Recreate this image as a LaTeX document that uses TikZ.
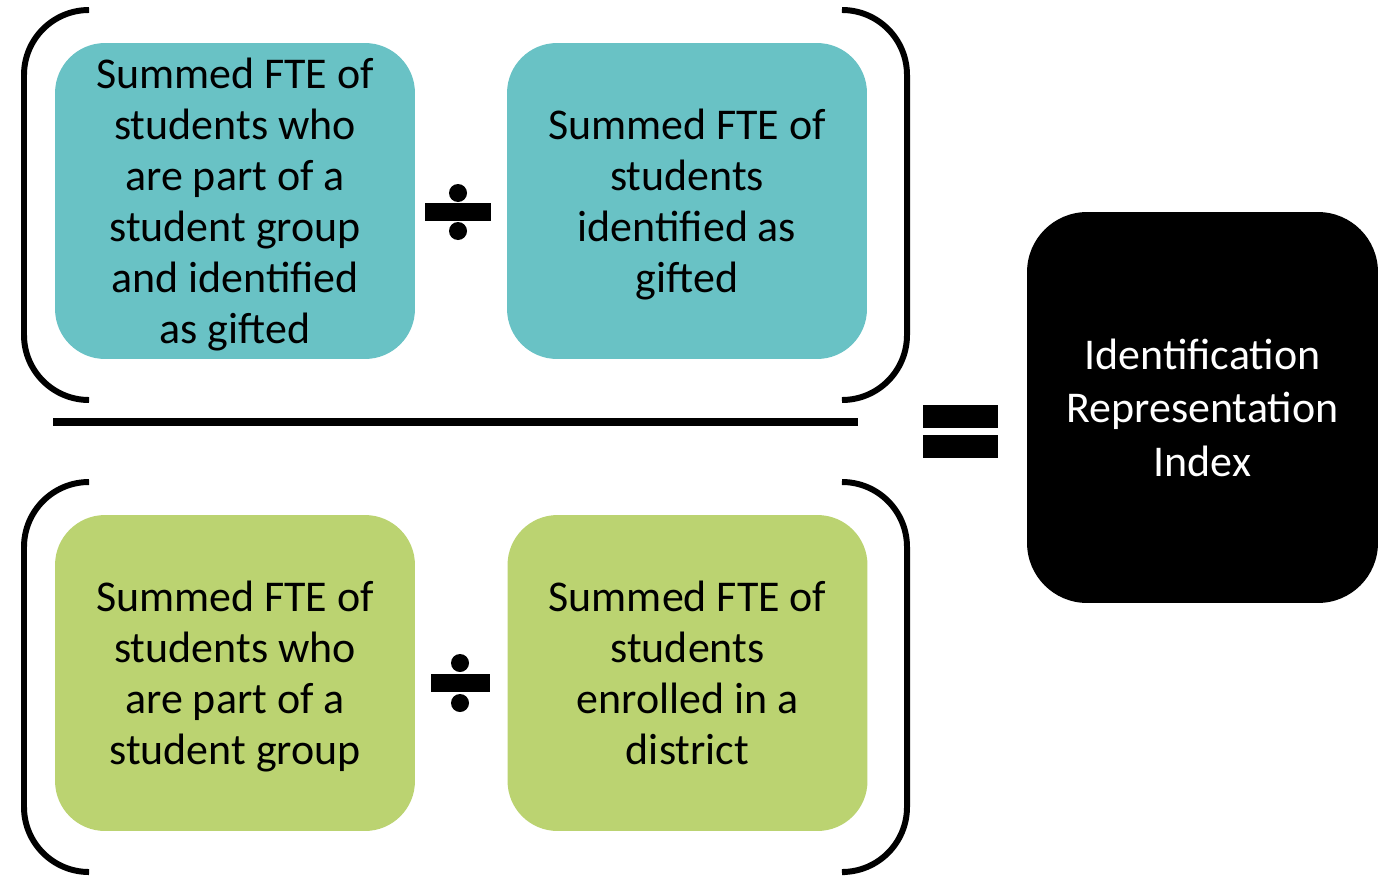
\documentclass[tikz,border=0pt]{standalone}
\usepackage{fontspec}
\setmainfont{Carlito}
\usepackage{tikz}
\usetikzlibrary{calc}

\tikzset{
box/.style={rounded corners=1cm,minimum width=7.2cm,minimum height=6.32cm,inner sep=0pt,text depth=0pt,align=center,font=\fontsize{25}{29}\selectfont},
paren/.style={line width=3.4pt,rounded corners=1.3cm}
}

\begin{document}
\begin{tikzpicture}[x=0.02cm,y=-0.02cm]
\definecolor{aqua}{RGB}{105,194,197}
\definecolor{leaf}{RGB}{187,211,113}
\useasboundingbox (0,0) rectangle (1378,875);
% brackets
\draw[paren] (88,10) -- (24,10) -- (24,400) -- (88,400);
\draw[paren] (845,10) -- (907,10) -- (907,400) -- (845,400);
\draw[paren] (88,482) -- (24,482) -- (24,872) -- (88,872);
\draw[paren] (845,482) -- (907,482) -- (907,872) -- (845,872);
% fraction bar
\draw[line width=4.5pt] (53,422) -- (858,422);
% boxes
\node[box,fill=aqua] (v1) at (235,201) {Summed FTE of\\students who\\are part of a\\student group\\and identified\\as gifted};
\node[box,fill=aqua] (v2) at (687,201) {Summed FTE of\\students\\identified as\\gifted};
\node[box,fill=leaf] (v3) at (235,673) {Summed FTE of\\students who\\are part of a\\student group};
\node[box,fill=leaf] (v4) at (687.5,673) {Summed FTE of\\students\\enrolled in a\\district};
\node[box,fill=black,text=white,minimum width=7.02cm,minimum height=7.82cm,rounded corners=1.2cm,font=\fontsize{25}{30.5}\selectfont] (v5) at (1202.5,407.5) {Identification\\Representation\\Index};
% division signs
\fill (425,203) rectangle (491,221);
\fill (458,193) circle (9);
\fill (458,231) circle (9);
\fill (431,674) rectangle (490,692);
\fill (460,663) circle (9);
\fill (460,703) circle (9);
% equals sign
\fill (923,405) rectangle (998,428);
\fill (923,435) rectangle (998,458);
\end{tikzpicture}
\end{document}
